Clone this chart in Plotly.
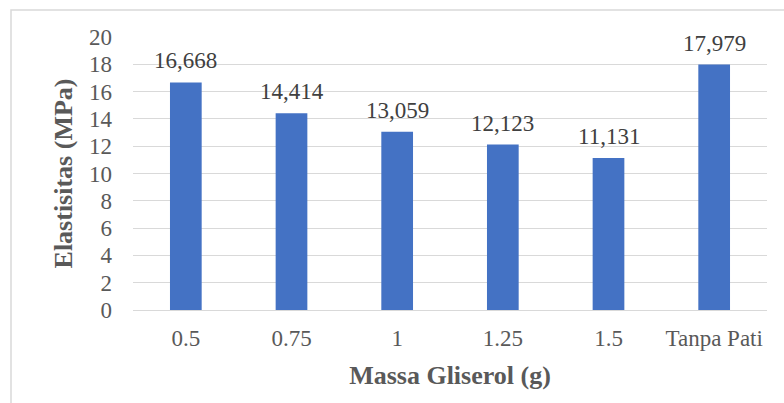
import plotly.graph_objects as go

categories = ["0.5", "0.75", "1", "1.25", "1.5", "Tanpa Pati"]
values = [16.668, 14.414, 13.059, 12.123, 11.131, 17.979]
labels = [f"{v:.3f}".replace(".", ",") for v in values]
y_ticks = list(range(0, 21, 2))

FONT = "Times New Roman"
W, H = 784, 403
L, R, T, B = 133, 17, 37, 93
pw, ph = W - L - R, H - T - B

fig = go.Figure(go.Bar(
    x=categories, y=values,
    marker=dict(color="#4472C4", line=dict(width=0)),
    width=0.3, hoverinfo="skip",
))

for i, (v, t) in enumerate(zip(values, labels)):
    fig.add_annotation(
        x=i, y=v, text=t, showarrow=False, yanchor="bottom", yshift=7,
        font=dict(family=FONT, size=23, color="#404040"),
    )

fig.update_layout(
    width=W, height=H,
    margin=dict(l=L, r=R, t=T, b=B),
    paper_bgcolor="white", plot_bgcolor="white",
    showlegend=False,
    font=dict(family=FONT, color="#595959", size=23),
    xaxis=dict(
        type="category", showgrid=False, showline=True, linecolor="#D9D9D9", linewidth=1,
        ticks="", ticklabelstandoff=7,
        tickfont=dict(family=FONT, size=23, color="#595959"),
        title=dict(text="Massa Gliserol (g)", font=dict(family=FONT, size=26, color="#595959", weight="bold"), standoff=16),
    ),
    yaxis=dict(
        range=[0, 20], tickvals=y_ticks, showgrid=True, gridcolor="#D9D9D9", gridwidth=1,
        zeroline=False, ticks="", ticklabelstandoff=20,
        tickfont=dict(family=FONT, size=23, color="#595959"),
        title=dict(text="Elastisitas (MPa)", font=dict(family=FONT, size=26, color="#595959", weight="bold"), standoff=8),
    ),
    shapes=[dict(
        type="rect", xref="paper", yref="paper",
        x0=(11 - L) / pw, x1=(W + 5 - L) / pw,
        y0=-(H + 5 - (T + ph)) / ph, y1=(T + ph - 10) / ph,
        line=dict(color="#D9D9D9", width=1.5), layer="below",
    )],
)

fig.write_html("out.html", config={"displayModeBar": False},
               post_script="document.body.style.margin='0';document.body.style.padding='0';")
